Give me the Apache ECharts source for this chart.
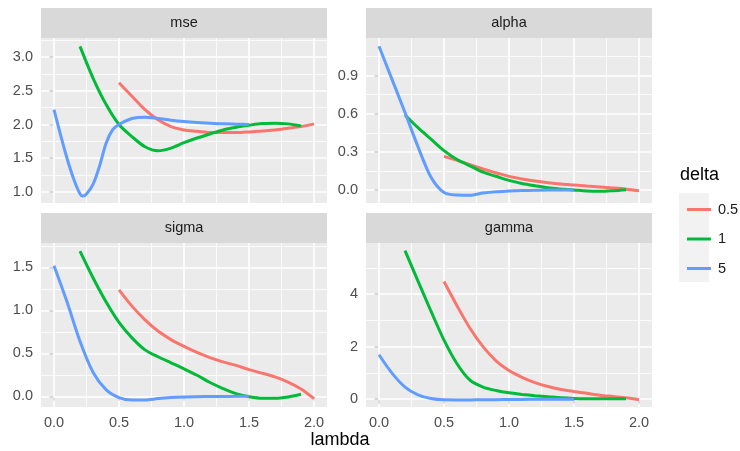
<!DOCTYPE html>
<html>
<head>
<meta charset="utf-8">
<script src="https://cdn.jsdelivr.net/npm/echarts@6/dist/echarts.min.js"></script>
<style>
  html, body { margin: 0; padding: 0; background: #fff; }
  #chart { width: 740px; height: 451px; }
</style>
</head>
<body>
<div id="chart"></div>
<script>
// lambda values for each delta
const lambdaD05 = [0.5, 0.6, 0.7, 0.8, 0.9, 1.0, 1.1, 1.2, 1.3, 1.4, 1.5, 1.6, 1.7, 1.8, 1.9, 2.0];
const lambdaD1 = [0.2, 0.3, 0.4, 0.5, 0.6, 0.7, 0.8, 0.9, 1.0, 1.1, 1.2, 1.3, 1.4, 1.5, 1.6, 1.7, 1.8, 1.9];
const lambdaD5 = [0, 0.1, 0.2, 0.3, 0.4, 0.5, 0.6, 0.7, 0.8, 0.9, 1.0, 1.1, 1.2, 1.3, 1.4, 1.5];
const lambdaD5Mse = [0, 0.05, 0.1, 0.15, 0.2, 0.22, 0.25, 0.3, 0.35, 0.4, 0.45, 0.5, 0.6, 0.7, 0.8, 0.9, 1.0, 1.1, 1.2, 1.3, 1.4, 1.5];

// mse
const mseD05 = [2.62, 2.42, 2.22, 2.07, 1.97, 1.92, 1.90, 1.88, 1.88, 1.88, 1.89, 1.905, 1.92, 1.945, 1.97, 2.01];
const mseD1 = [3.16, 2.69, 2.30, 2.00, 1.82, 1.67, 1.61, 1.65, 1.73, 1.80, 1.86, 1.92, 1.96, 1.99, 2.015, 2.02, 2.01, 1.98];
const mseD5 = [2.22, 1.85, 1.50, 1.20, 0.97, 0.94, 0.97, 1.11, 1.38, 1.72, 1.92, 2.00, 2.09, 2.11, 2.09, 2.065, 2.045, 2.03, 2.02, 2.01, 2.005, 2.0];
// alpha
const alphaD05 = [0.265, 0.233, 0.200, 0.165, 0.136, 0.107, 0.087, 0.071, 0.058, 0.047, 0.039, 0.031, 0.024, 0.016, 0.007, -0.005];
const alphaD1 = [0.59, 0.49, 0.40, 0.31, 0.24, 0.19, 0.14, 0.108, 0.076, 0.052, 0.034, 0.018, 0.008, 0.0, -0.008, -0.01, -0.005, 0.003];
const alphaD5 = [1.13, 0.87, 0.61, 0.34, 0.10, -0.02, -0.04, -0.042, -0.024, -0.013, -0.008, -0.004, -0.002, 0, 0, 0];
// sigma
const sigmaD05 = [1.24, 1.05, 0.89, 0.76, 0.66, 0.58, 0.51, 0.45, 0.40, 0.36, 0.31, 0.27, 0.225, 0.165, 0.085, -0.027];
const sigmaD1 = [1.69, 1.38, 1.10, 0.86, 0.68, 0.54, 0.46, 0.39, 0.32, 0.245, 0.16, 0.09, 0.03, -0.004, -0.023, -0.023, -0.008, 0.023];
const sigmaD5 = [1.52, 1.10, 0.64, 0.28, 0.078, -0.015, -0.043, -0.043, -0.027, -0.015, -0.008, -0.005, -0.003, -0.002, -0.001, 0];
// gamma
const gammaD05 = [4.48, 3.56, 2.70, 2.00, 1.46, 1.09, 0.83, 0.63, 0.48, 0.37, 0.29, 0.22, 0.15, 0.10, 0.05, -0.02];
const gammaD1 = [5.66, 4.50, 3.35, 2.25, 1.35, 0.72, 0.46, 0.33, 0.24, 0.18, 0.13, 0.09, 0.05, 0.025, 0.013, 0.01, 0.01, 0.01];
const gammaD5 = [1.69, 0.99, 0.46, 0.165, 0.025, -0.025, -0.03, -0.03, -0.025, -0.02, -0.015, -0.01, -0.008, -0.005, -0.003, 0];

const deltaLevels = ['0.5', '1', '5'];
const facetNames = ['mse', 'alpha', 'sigma', 'gamma'];

// tick labels / grid breaks
const xTicks = [0, 0.5, 1.0, 1.5, 2.0];
const xMinor = [0.25, 0.75, 1.25, 1.75];
const mseTicks = [1.0, 1.5, 2.0, 2.5, 3.0];
const mseMinor = [1.25, 1.75, 2.25, 2.75, 3.25];
const alphaTicks = [0.0, 0.3, 0.6, 0.9];
const alphaMinor = [0.15, 0.45, 0.75, 1.05];
const sigmaTicks = [0.0, 0.5, 1.0, 1.5];
const sigmaMinor = [0.25, 0.75, 1.25, 1.75];
const gammaTicks = [0, 2, 4];
const gammaMinor = [1, 3, 5];

const colors = ['#F8766D', '#00BA38', '#619CFF'];
const FONT = '"Liberation Sans", Arial, Helvetica, sans-serif';

const facets = [
  { lambdas: [lambdaD05, lambdaD1, lambdaD5Mse], values: [mseD05, mseD1, mseD5], ticks: mseTicks, minor: mseMinor, min: 0.835, max: 3.285, digits: 1 },
  { lambdas: [lambdaD05, lambdaD1, lambdaD5], values: [alphaD05, alphaD1, alphaD5], ticks: alphaTicks, minor: alphaMinor, min: -0.102, max: 1.195, digits: 1 },
  { lambdas: [lambdaD05, lambdaD1, lambdaD5], values: [sigmaD05, sigmaD1, sigmaD5], ticks: sigmaTicks, minor: sigmaMinor, min: -0.125, max: 1.785, digits: 1 },
  { lambdas: [lambdaD05, lambdaD1, lambdaD5], values: [gammaD05, gammaD1, gammaD5], ticks: gammaTicks, minor: gammaMinor, min: -0.30, max: 5.95, digits: 0 }
];

const boxes = [
  { left: 41, top: 38, width: 286, height: 165 },
  { left: 366, top: 38, width: 286, height: 165 },
  { left: 41, top: 243, width: 286, height: 164 },
  { left: 366, top: 243, width: 286, height: 164 }
];

const grid = [], xAxis = [], yAxis = [], series = [], graphic = [];

facets.forEach(function (f, i) {
  const b = boxes[i];
  const bottomRow = i >= 2;
  grid.push({ left: b.left, top: b.top, width: b.width, height: b.height, show: true, backgroundColor: '#EBEBEB', borderWidth: 0 });

  xAxis.push({
    type: 'value', gridIndex: i, min: -0.1, max: 2.1,
    axisLine: { show: false },
    splitLine: { show: false },
    axisTick: { show: bottomRow, customValues: xTicks, length: 4.5, lineStyle: { color: '#333333', width: 1.5 } },
    axisLabel: {
      show: bottomRow, customValues: xTicks, margin: 8,
      color: '#4D4D4D', fontSize: 14.5, fontFamily: FONT,
      formatter: function (v) { return v.toFixed(1); }
    }
  });

  yAxis.push({
    type: 'value', gridIndex: i, min: f.min, max: f.max,
    axisLine: { show: false },
    splitLine: { show: false },
    axisTick: { show: true, customValues: f.ticks, length: 4.5, lineStyle: { color: '#333333', width: 1.5 } },
    axisLabel: {
      customValues: f.ticks, margin: 8,
      color: '#4D4D4D', fontSize: 14.5, fontFamily: FONT,
      formatter: function (v) { return v.toFixed(f.digits); }
    }
  });

  // panel grid lines, kept under the data lines
  const lines = [];
  xMinor.forEach(function (v) { lines.push({ xAxis: v, lineStyle: { width: 0.8 } }); });
  f.minor.forEach(function (v) { lines.push({ yAxis: v, lineStyle: { width: 0.8 } }); });
  xTicks.forEach(function (v) { lines.push({ xAxis: v, lineStyle: { width: 1.6 } }); });
  f.ticks.forEach(function (v) { lines.push({ yAxis: v, lineStyle: { width: 1.6 } }); });
  series.push({
    type: 'line', xAxisIndex: i, yAxisIndex: i, z: 1,
    data: [[-5, f.min - 100]], showSymbol: false, silent: true,
    lineStyle: { opacity: 0 },
    markLine: {
      silent: true, symbol: 'none', animation: false, z: 1,
      label: { show: false },
      lineStyle: { color: '#FFFFFF', type: 'solid' },
      data: lines
    }
  });

  deltaLevels.forEach(function (d, k) {
    const lam = f.lambdas[k];
    series.push({
      type: 'line', name: d, xAxisIndex: i, yAxisIndex: i, z: 3 + k,
      data: lam.map(function (x, j) { return [x, f.values[k][j]]; }),
      showSymbol: false, smooth: 0.3, animation: false,
      lineStyle: { width: 3, color: colors[k] },
      itemStyle: { color: colors[k] }
    });
  });

  // facet strip
  graphic.push({ type: 'rect', shape: { x: b.left, y: b.top - 30, width: b.width, height: 30 }, style: { fill: '#D9D9D9' }, silent: true });
  graphic.push({
    type: 'text', x: b.left + b.width / 2, y: b.top - 15, silent: true,
    style: { text: facetNames[i], fill: '#1A1A1A', font: '14.5px ' + FONT, align: 'center', verticalAlign: 'middle', textAlign: 'center', textVerticalAlign: 'middle' }
  });
});

graphic.push({
  type: 'text', x: 340, y: 440, silent: true,
  style: { text: 'lambda', fill: '#000000', font: '18px ' + FONT, align: 'center', verticalAlign: 'middle', textAlign: 'center', textVerticalAlign: 'middle' }
});
graphic.push({
  type: 'text', x: 680, y: 175, silent: true,
  style: { text: 'delta', fill: '#000000', font: '18px ' + FONT, align: 'left', verticalAlign: 'middle', textAlign: 'left', textVerticalAlign: 'middle' }
});
graphic.push({ type: 'rect', shape: { x: 679, y: 193, width: 30, height: 89 }, style: { fill: '#F2F2F2' }, silent: true });

const chart = echarts.init(document.getElementById('chart'), null, { renderer: 'canvas' });
chart.setOption({
  animation: false,
  grid: grid,
  xAxis: xAxis,
  yAxis: yAxis,
  series: series,
  graphic: graphic,
  legend: {
    data: deltaLevels, orient: 'vertical', left: 682, top: 197,
    itemWidth: 24, itemHeight: 3, itemGap: 14.5, icon: 'rect',
    selectedMode: false,
    textStyle: { fontSize: 14.5, fontFamily: FONT, color: '#1A1A1A', padding: [0, 0, 0, 2] }
  }
});
</script>
</body>
</html>
